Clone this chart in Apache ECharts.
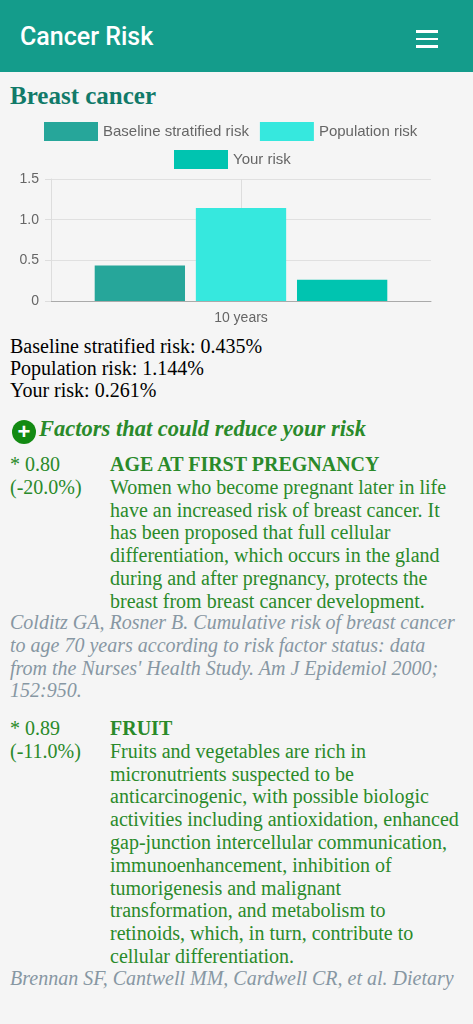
<!DOCTYPE html>
<html><head><meta charset="utf-8">
<script src="https://cdn.jsdelivr.net/npm/echarts@6/dist/echarts.min.js"></script>
<style>
body{margin:0;background:#f5f5f5;width:473px;height:1024px;overflow:hidden;font-family:"Liberation Serif",serif;}
.hdr{height:72px;background:#149c8b;color:#fff;position:relative;}
.hdr .t{position:absolute;left:20px;top:22px;font:500 25px Roboto,sans-serif;}
.ham{position:absolute;left:416px;top:30px;width:22px;}
.ham div{height:2.5px;background:#fff;margin-bottom:5px;}
h1{position:absolute;left:10px;top:82px;margin:0;font:bold 25px "Liberation Serif",serif;color:#117a69;}
#chart{position:absolute;left:0;top:112px;width:473px;height:222px;}
.sum{position:absolute;left:10px;top:335px;font-size:20px;line-height:22px;color:#000;}
.fh{position:absolute;left:12px;top:416px;font:italic bold 22.5px "Liberation Serif",serif;color:#2a8a2a;}
.fh .c{display:inline-block;width:24px;height:24px;border-radius:12px;background:#138a13;color:#fff;font:bold 22px/24px sans-serif;text-align:center;vertical-align:-3px;margin-right:3px;font-style:normal;}
.e{position:absolute;left:10px;width:455px;font-size:20px;line-height:22.8px;color:#2a8a2a;}
.e .l{position:absolute;left:0;top:0;width:95px;}
.e .r{margin-left:100px;}
.e b{font-size:20px;}
.cit{position:absolute;left:10px;width:446px;font-style:italic;font-size:20px;line-height:22.8px;color:#8797a3;}
</style></head><body>
<div class="hdr"><div class="t">Cancer Risk</div><div class="ham"><div></div><div></div><div></div></div></div>
<h1>Breast cancer</h1>
<div id="chart"></div>
<div class="sum">Baseline stratified risk: 0.435%<br>Population risk: 1.144%<br>Your risk: 0.261%</div>
<div class="fh"><span class="c">+</span>Factors that could reduce your risk</div>
<div class="e" style="top:453px"><div class="l">* 0.80<br>(-20.0%)</div><div class="r"><b>AGE AT FIRST PREGNANCY</b><br>Women who become pregnant later in life have an increased risk of breast cancer. It has been proposed that full cellular differentiation, which occurs in the gland during and after pregnancy, protects the breast from breast cancer development.</div></div>
<div class="cit" style="top:611px">Colditz GA, Rosner B. Cumulative risk of breast cancer to age 70 years according to risk factor status: data from the Nurses' Health Study. Am J Epidemiol 2000; 152:950.</div>
<div class="e" style="top:717px"><div class="l">* 0.89<br>(-11.0%)</div><div class="r"><b>FRUIT</b><br>Fruits and vegetables are rich in micronutrients suspected to be anticarcinogenic, with possible biologic activities including antioxidation, enhanced gap-junction intercellular communication, immunoenhancement, inhibition of tumorigenesis and malignant transformation, and metabolism to retinoids, which, in turn, contribute to cellular differentiation.</div></div>
<div class="cit" style="top:967px">Brennan SF, Cantwell MM, Cardwell CR, et al. Dietary</div>
<script>
const categories=['10 years'];
const seriesNames=['Baseline stratified risk','Population risk','Your risk'];
const baseline=[0.435];
const population=[1.144];
const yourRisk=[0.261];
const colors=['#26a69a','#36e8de','#00c4b0'];
const c=echarts.init(document.getElementById('chart'));
const mk=(n,d,i)=>({name:n,type:'bar',z:5,data:d,barGap:'12%',barCategoryGap:'23%',itemStyle:{color:colors[i]}});
const lg={icon:'rect',itemWidth:54,itemHeight:19,itemGap:11,textStyle:{color:'#666',fontSize:15,fontFamily:'Liberation Sans'}};
c.setOption({
 animation:false,
 legend:[Object.assign({top:5,left:39,data:seriesNames.slice(0,2)},lg),Object.assign({top:33,left:169,data:seriesNames.slice(2)},lg)],
 grid:{left:51,right:42,top:67,height:122},
 xAxis:{type:'category',data:categories,axisLine:{lineStyle:{color:'#aaa'}},axisTick:{alignWithLabel:true,length:5,lineStyle:{color:'#ddd'}},axisLabel:{color:'#666',fontSize:14,fontFamily:'Liberation Sans',margin:10}},
 yAxis:{type:'value',min:0,max:1.5,interval:0.5,axisLine:{show:true,lineStyle:{color:'#ddd'}},axisTick:{show:true,length:6,lineStyle:{color:'#ddd'}},splitLine:{lineStyle:{color:'#e0e0e0'}},
  axisLabel:{color:'#666',fontSize:14,fontFamily:'Liberation Sans',margin:12,formatter:v=>v===0?'0':v.toFixed(1)}},
 series:[mk(seriesNames[0],baseline,0),mk(seriesNames[1],population,1),mk(seriesNames[2],yourRisk,2),
  {type:'line',data:[],silent:true,z:0,markLine:{silent:true,z:0,symbol:'none',label:{show:false},lineStyle:{color:'#ddd',type:'solid',width:1},data:[{xAxis:categories[0]}]}}]
});
</script></body></html>
